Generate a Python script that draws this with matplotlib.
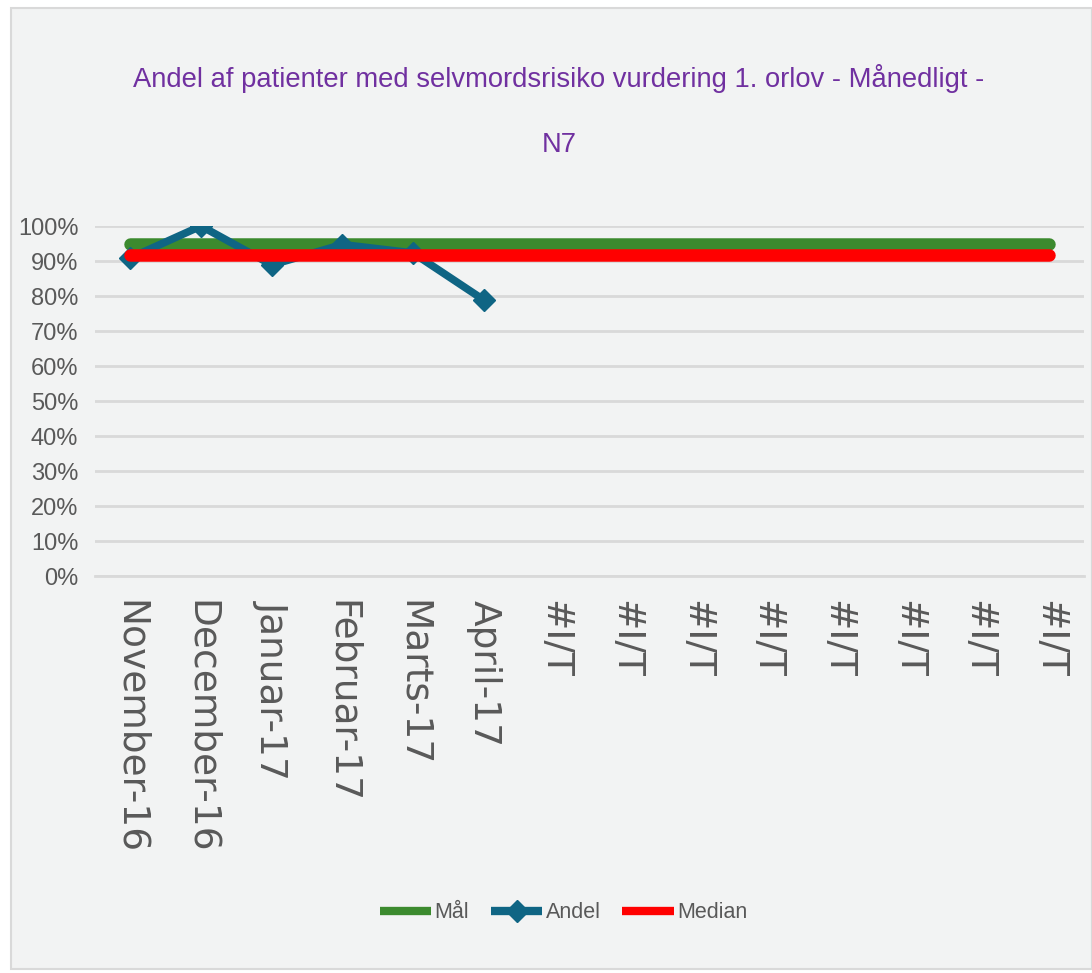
import matplotlib.pyplot as plt
from matplotlib.ticker import PercentFormatter
from matplotlib.patches import Rectangle

# data
months = ['November-16', 'December-16', 'Januar-17', 'Februar-17', 'Marts-17', 'April-17',
          '#I/T', '#I/T', '#I/T', '#I/T', '#I/T', '#I/T', '#I/T', '#I/T']
andel = [0.909, 1.0, 0.889, 0.947, 0.923, 0.789]
maal = [0.95] * len(months)
median = [0.916] * len(months)

title = 'Andel af patienter med selvmordsrisiko vurdering 1. orlov - Månedligt -\nN7'

sans = ['Liberation Sans', 'DejaVu Sans']
bg = '#f2f3f3'

fig = plt.figure(figsize=(10.92, 9.73), dpi=100, facecolor='white')
fig.patches.append(Rectangle((0.010, 0.004), 0.99, 0.988, transform=fig.transFigure,
                             facecolor=bg, edgecolor='#d9d9d9', lw=1.5, zorder=-1))
ax = fig.add_axes([0.087, 0.408, 0.906, 0.3597])
ax.set_facecolor(bg)

x = list(range(len(months)))
ax.plot(x, maal, color='#3c8a2e', lw=9, solid_capstyle='round', label='Mål', zorder=3)
ax.plot(x[:len(andel)], andel, color='#0f6584', lw=5.5, marker='D', markersize=11,
        solid_joinstyle='round', label='Andel', zorder=4)
ax.plot(x, median, color='#ff0000', lw=9, solid_capstyle='round', label='Median', zorder=5)

ax.set_xlim(-0.5, len(months) - 0.5)
ax.set_ylim(0, 1.0)
ax.set_yticks([i / 10 for i in range(11)])
ax.yaxis.set_major_formatter(PercentFormatter(1.0, decimals=0))
ax.grid(axis='y', color='#d9d9d9', lw=2)
ax.set_axisbelow(True)
for s in ['top', 'right', 'left']:
    ax.spines[s].set_visible(False)
ax.spines['bottom'].set_color('#d9d9d9')
ax.spines['bottom'].set_linewidth(2)
ax.tick_params(length=0, colors='#595959')
ax.tick_params(axis='y', pad=12)
ax.tick_params(axis='x', pad=17)

ax.set_xticks(x)
ax.set_xticklabels(months, rotation=270, fontsize=27, family='DejaVu Sans',
                   va='top', ha='center')
for lab in ax.get_yticklabels():
    lab.set_family(sans)
    lab.set_fontsize(17)

fig.text(0.512, 0.886, title, ha='center', va='center', color='#7030a0',
         fontsize=19.7, family=sans, linespacing=2.95)

leg = fig.legend(loc='center', bbox_to_anchor=(0.516, 0.062), ncol=3, frameon=False,
                 handlelength=2.4, handletextpad=0.15, columnspacing=1.0,
                 prop={'family': sans, 'size': 15.5})
for t in leg.get_texts():
    t.set_color('#595959')
for h in leg.legend_handles:
    h.set_linewidth(6)
    h.set_solid_capstyle('butt')

fig.savefig('out.png', dpi=100, facecolor='white')
